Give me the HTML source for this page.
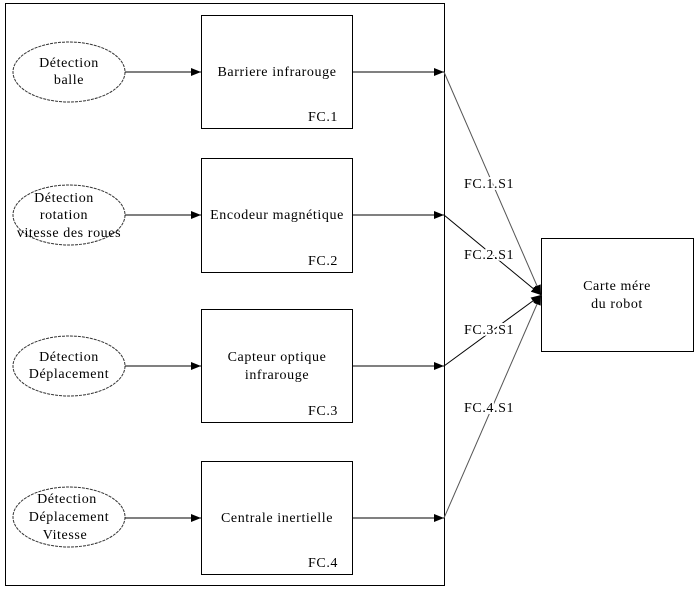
<!DOCTYPE html>
<html><head><style>body{margin:0;background:#fff}svg{display:block}</style></head><body>
<svg width="700" height="590" viewBox="0 0 700 590" xmlns="http://www.w3.org/2000/svg" font-family="Liberation Serif, serif" font-size="14" letter-spacing="0.6" fill="#000">
<defs><marker id="a" markerWidth="10" markerHeight="8" refX="10" refY="4" orient="auto" markerUnits="userSpaceOnUse"><path d="M0,0L10,4L0,8z" fill="#000"/></marker></defs>
<rect x="5.5" y="3.5" width="439" height="582" fill="none" stroke="#000"/>
<g fill="none" stroke="#000">
<rect x="201.5" y="15.5" width="151" height="113"/>
<rect x="201.5" y="158.5" width="151" height="114"/>
<rect x="201.5" y="309.5" width="151" height="113"/>
<rect x="201.5" y="461.5" width="151" height="113"/>
<rect x="541.5" y="238.5" width="152" height="113"/>
<g stroke-dasharray="3,1" stroke="#333"><ellipse cx="69" cy="72" rx="56" ry="30"/><ellipse cx="69" cy="215" rx="56" ry="30"/><ellipse cx="69" cy="366" rx="56" ry="30"/><ellipse cx="69" cy="517" rx="56" ry="30"/></g>
<g marker-end="url(#a)">
<line x1="125" y1="72" x2="201" y2="72"/><line x1="125" y1="215" x2="201" y2="215"/><line x1="125" y1="366" x2="201" y2="366"/><line x1="125" y1="518" x2="201" y2="518"/>
<line x1="352" y1="72" x2="444" y2="72"/><line x1="352" y1="215" x2="444" y2="215"/><line x1="352" y1="366" x2="444" y2="366"/><line x1="352" y1="518" x2="444" y2="518"/>
<line x1="444" y1="72" x2="541" y2="295" stroke="#555"/><line x1="444" y1="215" x2="541" y2="295"/><line x1="444" y1="366" x2="541" y2="295"/><line x1="444" y1="518" x2="541" y2="295" stroke="#555"/>
</g></g>
<g text-anchor="middle">
<text x="69" y="67">Détection</text><text x="69" y="84">balle</text>
<text x="64" y="202">Détection</text><text x="64" y="219">rotation</text><text x="69" y="237">vitesse des roues</text>
<text x="69" y="361">Détection</text><text x="69" y="378">Déplacement</text>
<text x="67" y="503">Détection</text><text x="69" y="521">Déplacement</text><text x="65" y="539">Vitesse</text>
<text x="277" y="76">Barriere infrarouge</text>
<text x="277" y="219">Encodeur magnétique</text>
<text x="277" y="361">Capteur optique</text><text x="277" y="379">infrarouge</text>
<text x="277" y="522">Centrale inertielle</text>
<text x="617" y="290">Carte mére</text><text x="617" y="308">du robot</text>
</g>
<text x="308" y="121">FC.1</text><text x="308" y="265">FC.2</text><text x="308" y="415">FC.3</text><text x="308" y="567">FC.4</text>
<g stroke="#fff" stroke-width="4" paint-order="stroke">
<text x="464" y="188">FC.1.S1</text><text x="464" y="259">FC.2.S1</text><text x="464" y="334">FC.3.S1</text><text x="464" y="412">FC.4.S1</text>
</g>
</svg>
</body></html>
